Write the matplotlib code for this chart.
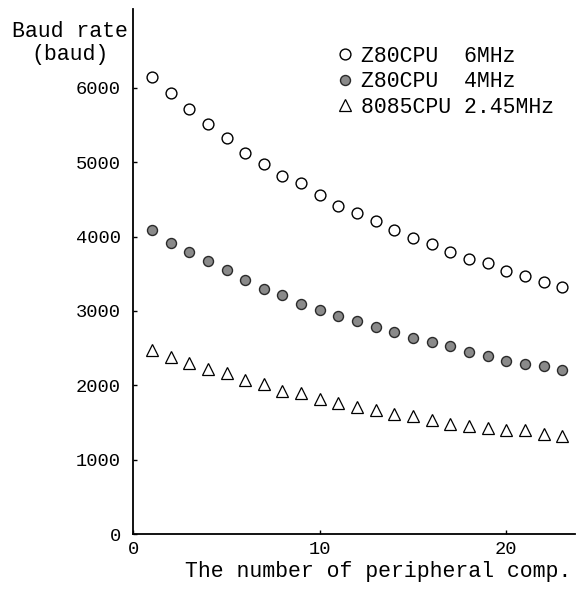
import numpy as np
import matplotlib.pyplot as plt

plt.rcParams['font.family'] = ['Liberation Mono', 'DejaVu Sans Mono']

# number of peripheral components
n_periph = np.arange(1, 24)

z80_6mhz = [6140, 5930, 5720, 5510, 5320, 5130, 4970, 4820, 4715, 4565,
            4410, 4310, 4205, 4090, 3980, 3895, 3790, 3700, 3640, 3535,
            3465, 3395, 3320]
z80_4mhz = [4090, 3915, 3790, 3670, 3545, 3420, 3295, 3210, 3095, 3015,
            2925, 2865, 2785, 2715, 2640, 2580, 2530, 2450, 2390, 2325,
            2290, 2260, 2200]
i8085_245mhz = [2470, 2380, 2300, 2225, 2165, 2075, 2020, 1925, 1890, 1815,
                1760, 1710, 1665, 1620, 1585, 1530, 1475, 1450, 1425, 1405,
                1395, 1350, 1315]

labels = ['Z80CPU  6MHz', 'Z80CPU  4MHz', '8085CPU 2.45MHz']
y_ticks = [0, 1000, 2000, 3000, 4000, 5000, 6000]
x_ticks = [0, 10, 20]

fig = plt.figure(figsize=(5.77, 5.98), dpi=100)
ax = fig.add_axes([0.231, 0.107, 0.766, 0.878])

ax.plot(n_periph, z80_6mhz, 'o', ms=7.8, mfc='white', mec='black', mew=1.0,
        label=labels[0])
ax.plot(n_periph, z80_4mhz, 'o', ms=7.2, mfc='#8a8a8a', mec='#2a2a2a', mew=1.0,
        label=labels[1])
ax.plot(n_periph, i8085_245mhz, '^', ms=9, mfc='white', mec='black', mew=0.9,
        label=labels[2])

ax.set_xlim(0, 23.7)
ax.set_ylim(0, 7060)
ax.set_xticks(x_ticks)
ax.set_yticks(y_ticks)
ax.tick_params(direction='in', length=3, width=1, labelsize=13.5)
ax.tick_params(axis='y', pad=9)
ax.tick_params(axis='x', pad=5)

for side in ('top', 'right'):
    ax.spines[side].set_visible(False)
for side in ('left', 'bottom'):
    ax.spines[side].set_linewidth(1.3)

ax.set_xlabel('The number of peripheral comp.', fontsize=15.5, loc='right',
              labelpad=2)
ax.xaxis.label.set_x(0.99)
fig.text(70 / 577, 1 - 43 / 598, 'Baud rate\n(baud)', fontsize=15.5,
         ha='center', va='center', multialignment='center', linespacing=1.15)

ax.legend(loc='upper left', bbox_to_anchor=(0.435, 0.95), frameon=False,
          fontsize=15.5, handlelength=0.8, handletextpad=0.35,
          labelspacing=0.2, borderpad=0)

fig.savefig('out.png', dpi=100)
